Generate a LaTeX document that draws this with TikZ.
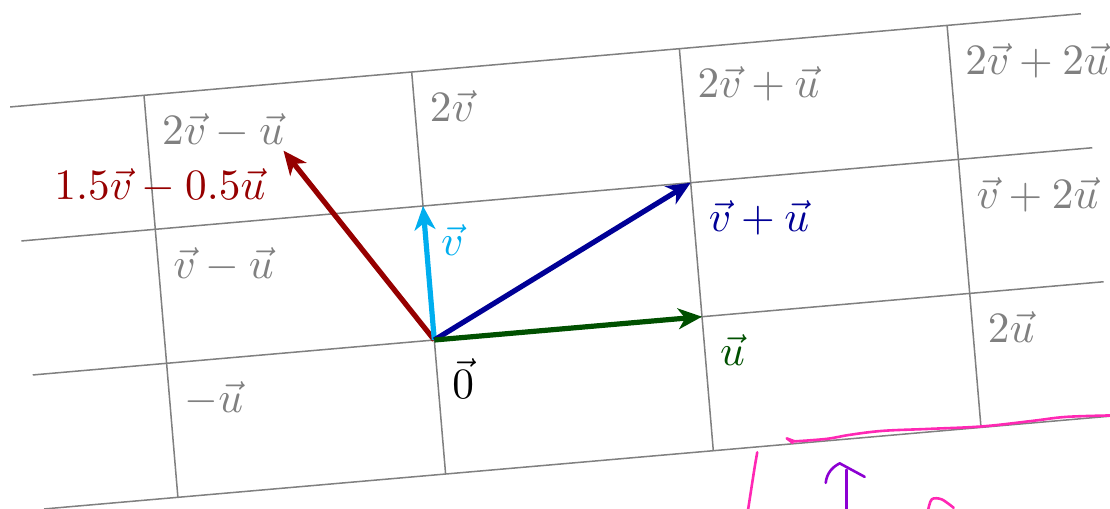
\documentclass[tikz,border=0pt]{standalone}
\usetikzlibrary{arrows.meta}
\definecolor{cvred}{RGB}{150,0,0}
\definecolor{cvblue}{RGB}{0,0,150}
\definecolor{cvgreen}{RGB}{0,80,0}
\definecolor{cvcyan}{RGB}{0,174,239}
\definecolor{gridgray}{RGB}{128,128,128}
\definecolor{pinkpen}{RGB}{255,40,180}
\definecolor{purplepen}{RGB}{140,0,210}
\tikzset{
  gridline/.style={draw=gridgray, line width=0.35pt},
  vecarrow/.style={line width=1.2pt, -{Stealth[length=5.5pt,width=4.8pt,inset=1.6pt]}},
  lab/.style={inner sep=4pt, text=gridgray},
  pen/.style={line width=0.6pt, line cap=round, line join=round},
}
\begin{document}
\begin{tikzpicture}[x={(2.1737cm,0.1892cm)}, y={(-0.0918cm,1.0881cm)}]
\useasboundingbox (-3.5265cm,2.7608cm) rectangle (5.4867cm,-1.3642cm);
\clip (-3.5265cm,2.7608cm) rectangle (5.4867cm,-1.3642cm);
% grid
\foreach \k in {-1,0,1,2} {
  \draw[gridline] (-1.5,\k) -- (2.5,\k);
}
\foreach \j in {-1,0,1,2} {
  \draw[gridline] (\j,-1) -- (\j,2);
}
% points
\coordinate (O) at (0,0);
\coordinate (U) at (1,0);
\coordinate (V) at (0,1);
\coordinate (VU) at (1,1);
\coordinate (R) at (-0.5,1.5);
\coordinate (P2vmu) at (-1,2);
\coordinate (P2v) at (0,2);
\coordinate (P2vpu) at (1,2);
\coordinate (P2vp2u) at (2,2);
\coordinate (Pvp2u) at (2,1);
\coordinate (P2u) at (2,0);
\coordinate (Pvmu) at (-1,1);
\coordinate (Pmu) at (-1,0);
% vectors
\draw[vecarrow, cvred] (O) -- (R);
\draw[vecarrow, cvcyan] (O) -- (V);
\draw[vecarrow, cvblue] (O) -- (VU);
\draw[vecarrow, cvgreen] (O) -- (U);
% grid labels
\node[lab, below right] (l2vmu) at (P2vmu) {$2\vec{v}-\vec{u}$};
\node[lab, below right] (l2v) at (P2v) {$2\vec{v}$};
\node[lab, below right] (l2vpu) at (P2vpu) {$2\vec{v}+\vec{u}$};
\node[lab, below right] (l2vp2u) at (P2vp2u) {$2\vec{v}+2\vec{u}$};
\node[lab, below right] (lvp2u) at (Pvp2u) {$\vec{v}+2\vec{u}$};
\node[lab, below right] (l2u) at (P2u) {$2\vec{u}$};
\node[lab, below right] (lvmu) at (Pvmu) {$\vec{v}-\vec{u}$};
\node[lab, below right] (lmu) at (Pmu) {$-\vec{u}$};
% vector labels
\node[inner sep=4pt, below right] (l0) at (O) {$\vec{0}$};
\node[inner sep=4pt, below right, text=cvgreen] (lu) at (U) {$\vec{u}$};
\node[inner sep=4pt, below right, text=cvcyan] (lv) at (V) {$\vec{v}$};
\node[inner sep=4pt, below right, text=cvblue] (lvu) at (VU) {$\vec{v}+\vec{u}$};
\node[inner sep=4pt, below left, text=cvred] (lr) at (R) {$1.5\vec{v}-0.5\vec{u}$};
% hand-drawn marks (pixel coordinates)
\begin{scope}[x=0.00812cm, y=-0.00812cm, shift={(-3.5265cm,2.7608cm)}]
  \draw[pen, pinkpen] (793,443) -- (787,438.5) -- (795,441.5)
    plot[smooth, tension=0.6] coordinates {(795,441.5) (827,439) (850,435) (883,431) (930,429) (983,426.5) (1033,421) (1067,417) (1115,415.5)};
  \draw[pen, pinkpen] plot[smooth] coordinates {(757.5,452.5) (754.5,470) (748,512)};
  \draw[pen, purplepen] (847,470) -- (847,512);
  \draw[pen, purplepen] (826,483) .. controls (827,473) and (833,467) .. (840,463.5) -- (865,477);
  \draw[pen, pinkpen] plot[smooth] coordinates {(928,512) (932,499.5) (942,499.5) (954,508)};
\end{scope}
\end{tikzpicture}
\end{document}
